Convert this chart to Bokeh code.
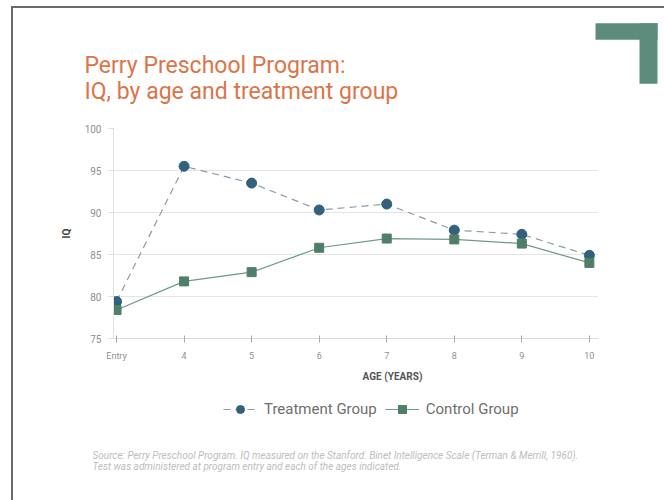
import math
from bokeh.plotting import figure
from bokeh.layouts import column
from bokeh.models import (Range1d, FixedTicker, Label, Legend, LegendItem,
                          BoxAnnotation)
from bokeh.embed import file_html
from bokeh.resources import INLINE

# ---- data ----
ages = [3, 4, 5, 6, 7, 8, 9, 10]
age_labels = ["Entry", "4", "5", "6", "7", "8", "9", "10"]
treatment_iq = [79.4, 95.5, 93.5, 90.3, 91.0, 87.9, 87.4, 84.9]
control_iq = [78.4, 81.8, 82.9, 85.8, 86.9, 86.8, 86.3, 84.0]
y_ticks = [75, 80, 85, 90, 95, 100]

title_lines = ["Perry Preschool Program:", "IQ, by age and treatment group"]
x_title = "AGE (YEARS)"
y_title = "IQ"
series_names = ["Treatment Group", "Control Group"]
source_lines = ["Source: Perry Preschool Program. IQ measured on the Stanford. Binet Intelligence Scale (Terman & Merrill, 1960).",
                "Test was administered at program entry and each of the ages indicated."]

FONT = "Roboto"
W = 651
TOP_H, MAIN_H, BOT_H = 114, 243, 135

T_COLOR, T_LINE = "#31617c", "#8a9ca8"
C_COLOR, C_LINE = "#4f7f69", "#6e9a86"


def blank(h, xr=(0, W), yr=None):
    f = figure(width=W, height=h, output_backend="svg", toolbar_location=None,
               x_range=Range1d(*xr), y_range=Range1d(*(yr or (0, h))),
               x_axis_location=None, y_axis_location=None,
               min_border=0, frame_align=False)
    f.outline_line_color = None
    f.grid.grid_line_color = None
    f.background_fill_color = "white"
    f.border_fill_color = "white"
    return f


# ---------- top: title + corner bracket ----------
top = blank(TOP_H)
for txt, base in zip(title_lines, [57, 31]):
    top.add_layout(Label(x=71, y=base, x_units="screen", y_units="screen",
                         text=txt, text_font=FONT, text_font_size="23px",
                         text_color="#dc7449", text_baseline="alphabetic",
                         text_align="left"))
for (l, r, t, b) in [(582, 644, 99.3, 82.7), (626, 644, 99.3, 38.7)]:
    top.add_layout(BoxAnnotation(left=l, right=r, top=t, bottom=b,
                                 left_units="screen", right_units="screen",
                                 top_units="screen", bottom_units="screen",
                                 fill_color="#5b8c7c", fill_alpha=1.0,
                                 line_color=None, editable=False))

# ---------- main chart ----------
FL, FR = 100, 585
p = figure(width=W, height=MAIN_H, output_backend="svg", toolbar_location=None,
           x_range=Range1d(2.955, 10.135), y_range=Range1d(75, 100),
           min_border_left=FL, min_border_right=W - FR,
           min_border_top=6, min_border_bottom=27, frame_align=False)
p.outline_line_color = None
p.background_fill_color = "white"
p.border_fill_color = "white"

p.xgrid.grid_line_color = None
p.ygrid.grid_line_color = "#e4e4e4"
p.ygrid.ticker = FixedTicker(ticks=y_ticks)

p.xaxis.ticker = FixedTicker(ticks=ages)
p.xaxis.major_label_overrides = {a: l for a, l in zip(ages, age_labels)}
p.xaxis.axis_line_color = "#dcdcdc"
p.xaxis.major_tick_line_color = "#a8a8a8"
p.xaxis.major_tick_in = 3
p.xaxis.major_tick_out = 4
p.xaxis.minor_tick_line_color = None
p.xaxis.major_label_text_font = FONT
p.xaxis.major_label_text_font_size = "9px"
p.xaxis.major_label_text_color = "#8f8f8f"
p.xaxis.major_label_standoff = 8

p.yaxis.ticker = FixedTicker(ticks=y_ticks)
p.yaxis.axis_line_color = "#e2e2e2"
p.yaxis.major_tick_line_color = "#dddddd"
p.yaxis.major_tick_in = 0
p.yaxis.major_tick_out = 5
p.yaxis.minor_tick_line_color = None
p.yaxis.major_label_text_font = FONT
p.yaxis.major_label_text_font_size = "10px"
p.yaxis.major_label_text_color = "#8f8f8f"
p.yaxis.major_label_standoff = 7
p.yaxis.axis_label = y_title
p.yaxis.axis_label_text_font = FONT
p.yaxis.axis_label_text_font_size = "10px"
p.yaxis.axis_label_text_font_style = "bold"
p.yaxis.axis_label_text_color = "#444444"
p.yaxis.axis_label_standoff = 10


def draw_series(f):
    tl = f.line(ages, treatment_iq, line_color=T_LINE, line_width=1.2,
                line_dash="7 5")
    tp = f.scatter(ages, treatment_iq, marker="circle", size=10,
                   fill_color=T_COLOR, line_color=T_COLOR)
    cl = f.line(ages, control_iq, line_color=C_LINE, line_width=1.2)
    cp = f.scatter(ages, control_iq, marker="square", size=9,
                   fill_color=C_COLOR, line_color=C_COLOR)
    return tl, tp, cl, cp


draw_series(p)

# ---------- bottom: x title, legend, source ----------
# ranges chosen so the series drawn here (only for legend swatches) stay out of view
bot = blank(BOT_H, xr=(1000, 1000 + W), yr=(1000, 1000 + BOT_H))
bot.add_layout(Label(x=379, y=124, x_units="screen", y_units="screen",
                     text=x_title, text_font=FONT, text_font_size="10px",
                     text_font_style="bold", text_color="#555555",
                     text_align="center", text_baseline="middle"))
tl, tp, cl, cp = draw_series(bot)
legend = Legend(items=[LegendItem(label=series_names[0], renderers=[tl, tp]),
                       LegendItem(label=series_names[1], renderers=[cl, cp])],
                orientation="horizontal", location=(210, 81),
                glyph_width=34, glyph_height=20, label_height=20,
                label_standoff=7, spacing=8, padding=0, margin=0,
                border_line_color=None, background_fill_alpha=0,
                label_text_font=FONT, label_text_font_size="15px",
                label_text_color="#6e6e6e")
bot.add_layout(legend, "center")
for txt, yy in zip(source_lines, [45.5, 34]):
    bot.add_layout(Label(x=79, y=yy, x_units="screen", y_units="screen",
                         text=txt, text_font=FONT, text_font_size="10px",
                         text_font_style="italic", text_color="#bdbdbd",
                         text_align="left", text_baseline="middle"))

page = column(top, p, bot, spacing=0)
page.styles = {"margin-left": "11px", "margin-top": "6px",
               "border-top": "2px solid #6a6a6a", "border-left": "2px solid #6a6a6a"}

open("out.html", "w").write(file_html(page, INLINE))
